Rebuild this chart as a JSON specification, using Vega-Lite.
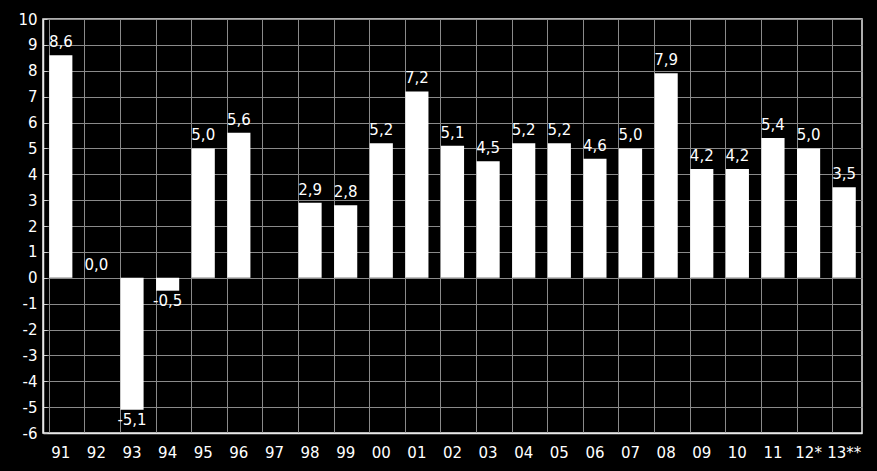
{
  "$schema": "https://vega.github.io/schema/vega-lite/v6.json",
  "width": 819,
  "height": 414,
  "autosize": {"type": "none"},
  "padding": {"left": 43, "top": 19, "right": 15, "bottom": 38},
  "background": "black",
  "config": {
    "locale": {"number": {"decimal": ",", "thousands": " ", "grouping": [3], "currency": ["", ""], "minus": "-"}},
    "view": {"stroke": "#e8e8e8", "strokeWidth": 1.5},
    "font": "DejaVu Sans",
    "axis": {"labelColor": "white", "labelFont": "DejaVu Sans", "labelFontSize": 15, "gridColor": "#8a8a8a", "gridWidth": 1, "domainColor": "#e8e8e8", "domainWidth": 1.5, "title": null}
  },
  "data": {
    "values": [
      {"year": "91", "v": 8.6},
      {"year": "92", "v": 0.0},
      {"year": "93", "v": -5.1},
      {"year": "94", "v": -0.5},
      {"year": "95", "v": 5.0},
      {"year": "96", "v": 5.6},
      {"year": "97", "v": null},
      {"year": "98", "v": 2.9},
      {"year": "99", "v": 2.8},
      {"year": "00", "v": 5.2},
      {"year": "01", "v": 7.2},
      {"year": "02", "v": 5.1},
      {"year": "03", "v": 4.5},
      {"year": "04", "v": 5.2},
      {"year": "05", "v": 5.2},
      {"year": "06", "v": 4.6},
      {"year": "07", "v": 5.0},
      {"year": "08", "v": 7.9},
      {"year": "09", "v": 4.2},
      {"year": "10", "v": 4.2},
      {"year": "11", "v": 5.4},
      {"year": "12*", "v": 5.0},
      {"year": "13**", "v": 3.5}
    ]
  },
  "encoding": {
    "x": {
      "field": "year",
      "type": "nominal",
      "sort": null,
      "scale": {
        "domain": ["91", "92", "93", "94", "95", "96", "97", "98", "99", "00", "01", "02", "03", "04", "05", "06", "07", "08", "09", "10", "11", "12*", "13**"],
        "paddingInner": 0.35, "paddingOuter": 0.175
      },
      "axis": {"labelAngle": 0, "bandPosition": 0, "ticks": false, "labelPadding": 12, "grid": true}
    },
    "y": {
      "field": "v",
      "type": "quantitative",
      "scale": {"domain": [-6, 10], "nice": false},
      "axis": {
        "values": [-6, -5.5, -5, -4.5, -4, -3.5, -3, -2.5, -2, -1.5, -1, -0.5, 0, 0.5, 1, 1.5, 2, 2.5, 3, 3.5, 4, 4.5, 5, 5.5, 6, 6.5, 7, 7.5, 8, 8.5, 9, 9.5, 10],
        "labelExpr": "datum.value % 1 == 0 ? datum.label : ''",
        "format": "d",
        "tickSize": -4,
        "tickColor": "#cccccc",
        "labelPadding": 10,
        "gridOpacity": {"condition": {"test": "datum.value % 1 != 0", "value": 0}, "value": 1}
      }
    }
  },
  "layer": [
    {"mark": {"type": "bar", "color": "white"}},
    {
      "transform": [{"filter": "datum.v != null && datum.v >= 0"}],
      "mark": {"type": "text", "color": "white", "fontSize": 15, "baseline": "bottom", "dy": -5},
      "encoding": {"text": {"field": "v", "type": "quantitative", "format": ".1f"}}
    },
    {
      "transform": [{"filter": "datum.v != null && datum.v < 0"}],
      "mark": {"type": "text", "color": "white", "fontSize": 15, "baseline": "top", "dy": 3},
      "encoding": {"text": {"field": "v", "type": "quantitative", "format": ".1f"}}
    }
  ]
}
